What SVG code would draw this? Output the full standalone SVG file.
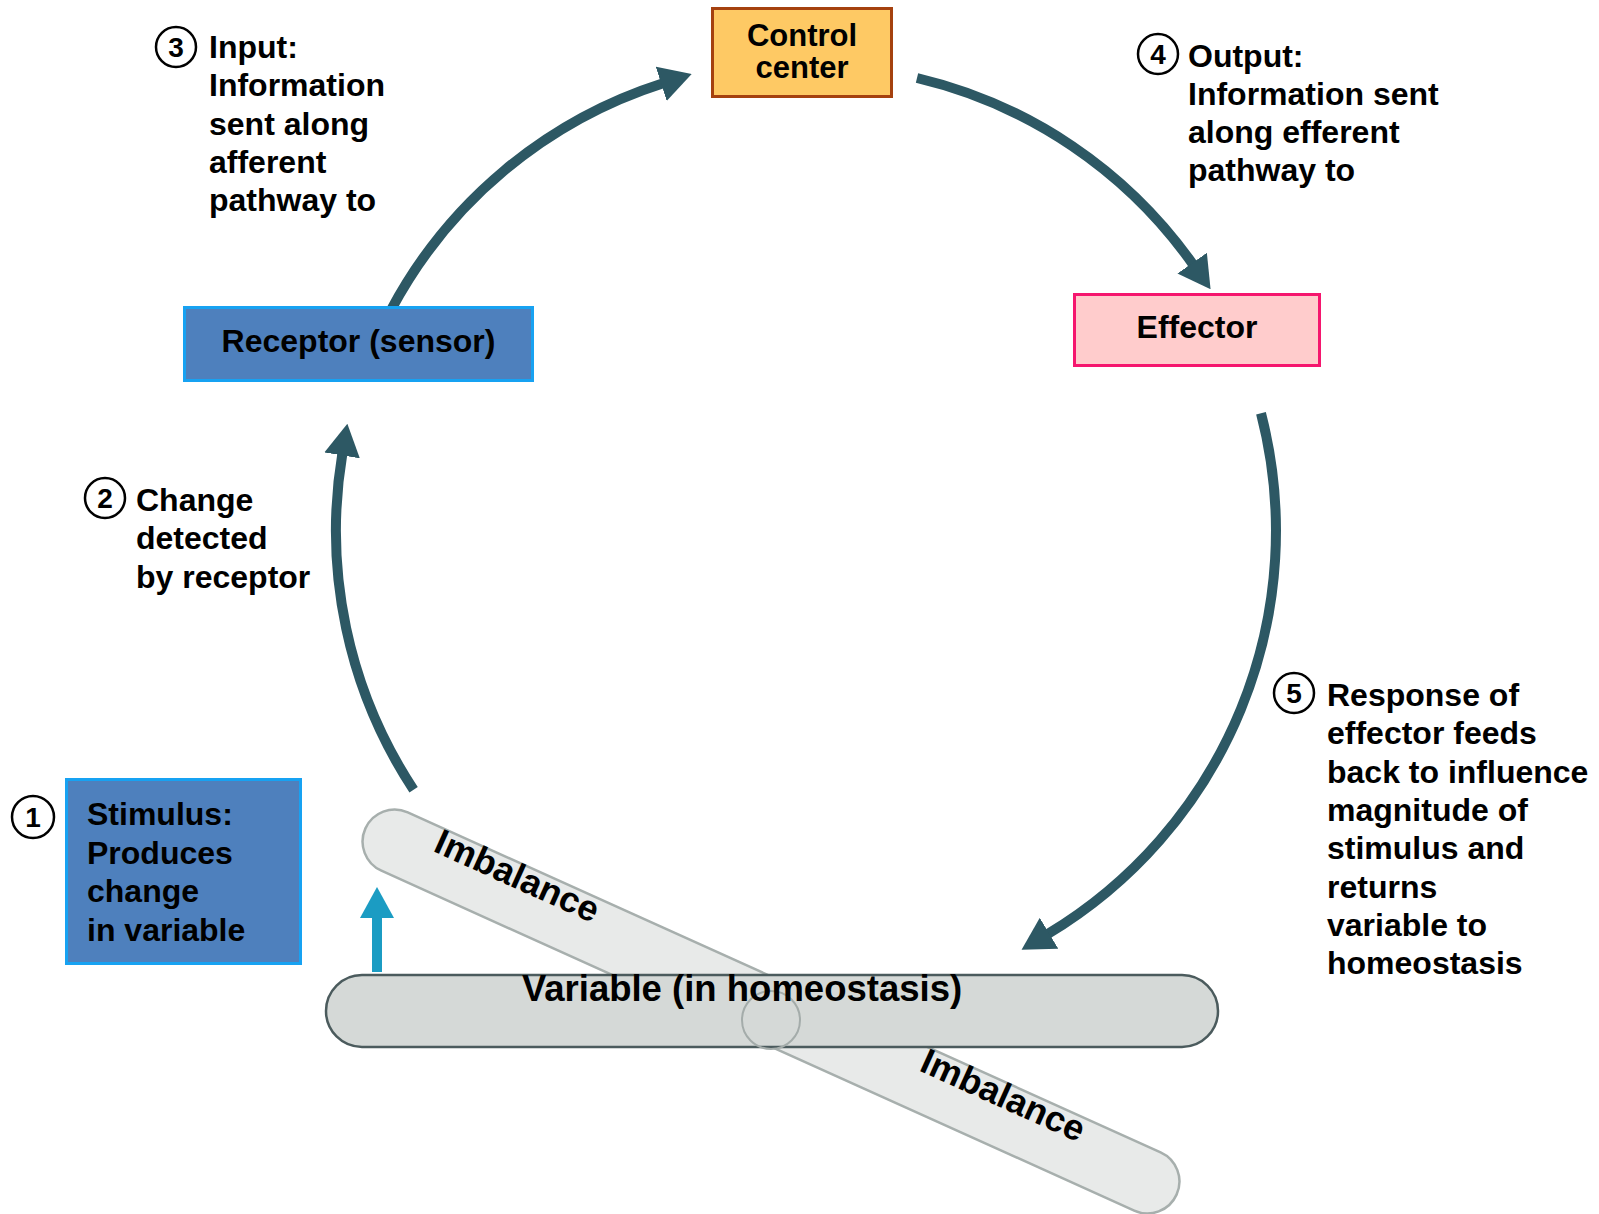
<svg xmlns="http://www.w3.org/2000/svg" width="1599" height="1214" viewBox="0 0 1599 1214">
<style>
.t{font-family:"Liberation Sans",Arial,Helvetica,sans-serif;font-weight:bold;font-size:32px;fill:#000}
.num{font-family:"Liberation Sans",Arial,Helvetica,sans-serif;font-weight:bold;font-size:28px;fill:#000;text-anchor:middle}
.badge{fill:#fff;stroke:#000;stroke-width:2.5}
.arc{fill:none;stroke:#2d5864;stroke-width:10;marker-end:url(#ah)}
.blue{fill:#4e80bd;stroke:#17a2f2;stroke-width:3}
.mid{text-anchor:middle}
</style>
<defs>
<marker id="ah" markerUnits="userSpaceOnUse" viewBox="0 0 32 36" refX="2" refY="18" markerWidth="32" markerHeight="36" orient="auto">
<path d="M0,0 L32,18 L0,36 Z" fill="#2d5864"/>
</marker>
</defs>
<rect width="1599" height="1214" fill="#fff"/>

<g id="connectors">
<path class="arc" d="M413.6,789.7 A470,470 0 0 1 342.4,453.4"/>
<path class="arc" d="M391,310 A470,470 0 0 1 663.1,83.2"/>
<path class="arc" d="M917,78 A470,470 0 0 1 1193.3,264.8"/>
<path class="arc" d="M1261,413.3 A470,470 0 0 1 1047.3,934.3"/>
</g>

<g id="balance">
<g transform="translate(771,1011.5) rotate(24.3)">
<rect x="-445" y="-32" width="890" height="64" rx="32" fill="#e8eae9" stroke="#a7afad" stroke-width="2.5"/>
</g>
<rect x="326" y="975" width="892" height="72" rx="36" fill="#d5d9d7" stroke="#4b5b5d" stroke-width="2.5"/>
<circle cx="771" cy="1020" r="29" fill="none" stroke="#a4acaa" stroke-width="2"/>
<text class="t" x="742" y="1001" text-anchor="middle" style="font-size:36.5px">Variable (in homeostasis)</text>
<g transform="translate(771,1011.5) rotate(24.3)">
<text class="t" x="-375" y="-7" style="font-size:36px">Imbalance</text>
<text class="t" x="158" y="-7" style="font-size:36px">Imbalance</text>
</g>
</g>

<g id="stimulus-arrow">
<rect x="372" y="912" width="10" height="60" fill="#1b9cc3"/>
<path d="M377,887 L394,918 L360,918 Z" fill="#1b9cc3"/>
</g>

<g id="stimulus">
<rect class="blue" x="66.5" y="779.5" width="234" height="184"/>
<circle class="badge" cx="33" cy="817" r="21"/>
<text class="num" x="33" y="827">1</text>
<text class="t"><tspan x="87" y="825">Stimulus:</tspan><tspan x="87" y="864">Produces</tspan><tspan x="87" y="902">change</tspan><tspan x="87" y="941">in variable</tspan></text>
</g>

<g id="receptor">
<rect class="blue" x="184.5" y="307.5" width="348" height="73"/>
<text class="t mid" x="358.5" y="352">Receptor (sensor)</text>
</g>

<g id="control-center">
<rect x="712.5" y="8.5" width="179" height="88" fill="#fec964" stroke="#a5410f" stroke-width="3"/>
<text class="t mid" style="font-size:31px"><tspan x="802" y="46">Control</tspan><tspan x="802" y="78">center</tspan></text>
</g>

<g id="effector">
<rect x="1074.5" y="294.5" width="245" height="71" fill="#ffcccc" stroke="#f5166e" stroke-width="3"/>
<text class="t mid" x="1197" y="338">Effector</text>
</g>

<g id="step2">
<circle class="badge" cx="105" cy="498" r="20"/>
<text class="num" x="105" y="508">2</text>
<text class="t"><tspan x="136" y="511">Change</tspan><tspan x="136" y="549">detected</tspan><tspan x="136" y="588">by receptor</tspan></text>
</g>

<g id="step3">
<circle class="badge" cx="176" cy="47" r="20"/>
<text class="num" x="176" y="57">3</text>
<text class="t"><tspan x="209" y="58">Input:</tspan><tspan x="209" y="96">Information</tspan><tspan x="209" y="135">sent along</tspan><tspan x="209" y="173">afferent</tspan><tspan x="209" y="211">pathway to</tspan></text>
</g>

<g id="step4">
<circle class="badge" cx="1158" cy="54" r="20"/>
<text class="num" x="1158" y="64">4</text>
<text class="t"><tspan x="1188" y="67">Output:</tspan><tspan x="1188" y="105">Information sent</tspan><tspan x="1188" y="143">along efferent</tspan><tspan x="1188" y="181">pathway to</tspan></text>
</g>

<g id="step5">
<circle class="badge" cx="1294" cy="693" r="20"/>
<text class="num" x="1294" y="703">5</text>
<text class="t"><tspan x="1327" y="706">Response of</tspan><tspan x="1327" y="744">effector feeds</tspan><tspan x="1327" y="783">back to influence</tspan><tspan x="1327" y="821">magnitude of</tspan><tspan x="1327" y="859">stimulus and</tspan><tspan x="1327" y="898">returns</tspan><tspan x="1327" y="936">variable to</tspan><tspan x="1327" y="974">homeostasis</tspan></text>
</g>
</svg>
